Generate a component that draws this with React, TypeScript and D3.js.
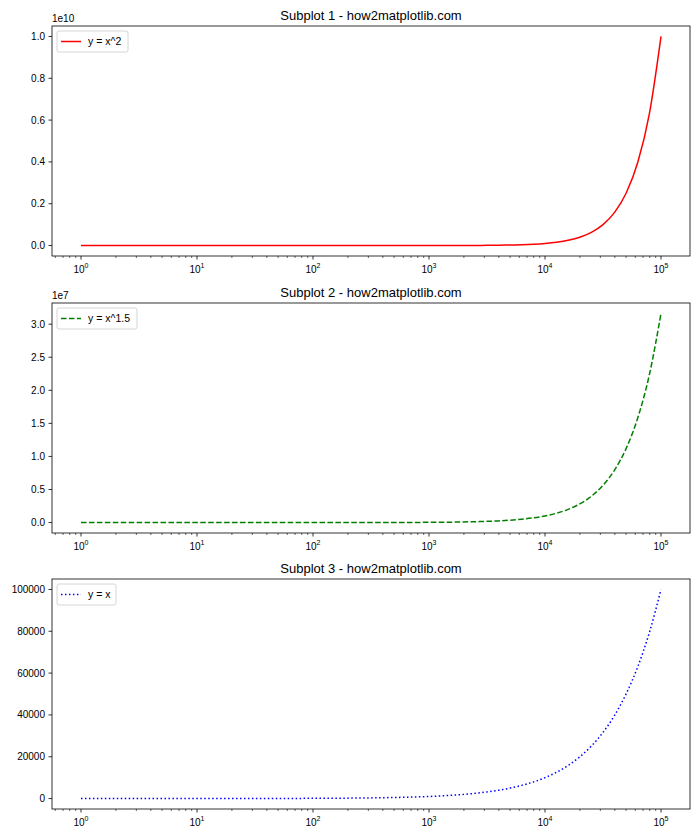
import React from "react";
import * as d3 from "d3";

const xValues = [
  1, 1.259, 1.585, 1.995, 2.512, 3.162, 3.981, 5.012, 6.31, 7.943,
  10, 12.59, 15.85, 19.95, 25.12, 31.62, 39.81, 50.12, 63.1, 79.43,
  100, 125.9, 158.5, 199.5, 251.2, 316.2, 398.1, 501.2, 631, 794.3,
  1000, 1259, 1585, 1995, 2512, 3162, 3981, 5012, 6310, 7943,
  10000, 12589, 15849, 19953, 25119, 31623, 39811, 50119, 63096, 79433, 100000,
];

const ySquare = [
  1, 1.585, 2.512, 3.981, 6.31, 10, 15.85, 25.12, 39.81, 63.1,
  100, 158.5, 251.2, 398.1, 631, 1000, 1585, 2512, 3981, 6310,
  1e4, 15849, 25119, 39811, 63096, 1e5, 1.585e5, 2.512e5, 3.981e5, 6.31e5,
  1e6, 1.585e6, 2.512e6, 3.981e6, 6.31e6, 1e7, 1.585e7, 2.512e7, 3.981e7, 6.31e7,
  1e8, 1.585e8, 2.512e8, 3.981e8, 6.31e8, 1e9, 1.585e9, 2.512e9, 3.981e9, 6.31e9, 1e10,
];

const yPow15 = [
  1, 1.413, 1.995, 2.818, 3.981, 5.623, 7.943, 11.22, 15.85, 22.39,
  31.62, 44.67, 63.1, 89.13, 125.9, 177.8, 251.2, 354.8, 501.2, 707.9,
  1000, 1413, 1995, 2818, 3981, 5623, 7943, 11220, 15849, 22387,
  31623, 44668, 63096, 89125, 125893, 177828, 251189, 354813, 501187, 707946,
  1e6, 1412538, 1995262, 2818383, 3981072, 5623413, 7943282, 11220185, 15848932, 22387211, 31622777,
];

const yLinear = [
  1, 1.259, 1.585, 1.995, 2.512, 3.162, 3.981, 5.012, 6.31, 7.943,
  10, 12.59, 15.85, 19.95, 25.12, 31.62, 39.81, 50.12, 63.1, 79.43,
  100, 125.9, 158.5, 199.5, 251.2, 316.2, 398.1, 501.2, 631, 794.3,
  1000, 1259, 1585, 1995, 2512, 3162, 3981, 5012, 6310, 7943,
  10000, 12589, 15849, 19953, 25119, 31623, 39811, 50119, 63096, 79433, 100000,
];

const titles = [
  "Subplot 1 - how2matplotlib.com",
  "Subplot 2 - how2matplotlib.com",
  "Subplot 3 - how2matplotlib.com",
];
const legendLabels = ["y = x^2", "y = x^1.5", "y = x"];
const seriesValues = [ySquare, yPow15, yLinear];
const yTickValues = [
  [0, 0.2e10, 0.4e10, 0.6e10, 0.8e10, 1e10],
  [0, 0.5e7, 1e7, 1.5e7, 2e7, 2.5e7, 3e7],
  [0, 20000, 40000, 60000, 80000, 100000],
];
const yTickLabels = [
  ["0.0", "0.2", "0.4", "0.6", "0.8", "1.0"],
  ["0.0", "0.5", "1.0", "1.5", "2.0", "2.5", "3.0"],
  ["0", "20000", "40000", "60000", "80000", "100000"],
];
const offsetTexts = ["1e10", "1e7", ""];
const xMajorTicks = [1, 10, 100, 1000, 10000, 100000];
const xTickExponents = ["0", "1", "2", "3", "4", "5"];

const colors = ["#ff0000", "#008000", "#0000ff"];
const dashes = ["none", "5.55,2.4", "1.5,2.475"];

const FONT = "'Liberation Sans', Arial, sans-serif";
const LEFT = 52;
const RIGHT = 690;
const PANEL_TOPS = [26, 303, 579];
const PANEL_H = 230;

function Panel({ idx }: { idx: number }) {
  const top = PANEL_TOPS[idx];
  const bottom = top + PANEL_H;
  const ys = seriesValues[idx];
  const data = xValues.map((x, i) => [x, ys[i]] as [number, number]);

  const lx0 = Math.log10(d3.min(xValues)!);
  const lx1 = Math.log10(d3.max(xValues)!);
  const lpad = (lx1 - lx0) * 0.05;
  const x = d3
    .scaleLog()
    .domain([Math.pow(10, lx0 - lpad), Math.pow(10, lx1 + lpad)])
    .range([LEFT, RIGHT]);

  const [ymin, ymax] = d3.extent(ys) as [number, number];
  const ypad = (ymax - ymin) * 0.05;
  const y = d3
    .scaleLinear()
    .domain([ymin - ypad, ymax + ypad])
    .range([bottom, top]);

  const line = d3
    .line<[number, number]>()
    .x((d) => x(d[0]))
    .y((d) => y(d[1]))
    .curve(d3.curveMonotoneX);

  const [d0, d1] = x.domain();
  const minorTicks = x
    .ticks()
    .filter((t) => t >= d0 && t <= d1)
    .filter((t) => !xMajorTicks.some((m) => Math.abs(m - t) / m < 1e-9));

  const cx = (LEFT + RIGHT) / 2;

  const lgX = LEFT + 5;
  const lgY = top + 5;
  const lgW = idx === 0 ? 71 : idx === 1 ? 80 : 59;
  const lgH = 21;

  return (
    <g>
      <text x={cx} y={top - 6} textAnchor="middle" fontSize={13} fontFamily={FONT} fill="#000">
        {titles[idx]}
      </text>
      {offsetTexts[idx] && (
        <text x={LEFT} y={top - 4} fontSize={10} fontFamily={FONT} fill="#000">
          {offsetTexts[idx]}
        </text>
      )}
      <path
        d={line(data) || ""}
        fill="none"
        stroke={colors[idx]}
        strokeWidth={1.5}
        strokeDasharray={dashes[idx]}
      />
      {yTickValues[idx].map((t, i) => (
        <g key={"y" + i}>
          <line x1={LEFT - 3.5} x2={LEFT} y1={y(t)} y2={y(t)} stroke="#000" strokeWidth={0.8} />
          <text
            x={LEFT - 7}
            y={y(t)}
            dy="0.35em"
            textAnchor="end"
            fontSize={10}
            fontFamily={FONT}
            fill="#000"
          >
            {yTickLabels[idx][i]}
          </text>
        </g>
      ))}
      {xMajorTicks.map((t, i) => (
        <g key={"x" + i}>
          <line x1={x(t)} x2={x(t)} y1={bottom} y2={bottom + 3.5} stroke="#000" strokeWidth={0.8} />
          <text x={x(t)} y={bottom + 17} textAnchor="middle" fontSize={10} fontFamily={FONT} fill="#000">
            10
            <tspan dy={-5} fontSize={7}>
              {xTickExponents[i]}
            </tspan>
          </text>
        </g>
      ))}
      {minorTicks.map((t, i) => (
        <line key={"m" + i} x1={x(t)} x2={x(t)} y1={bottom} y2={bottom + 2} stroke="#000" strokeWidth={0.6} />
      ))}
      <rect x={LEFT} y={top} width={RIGHT - LEFT} height={PANEL_H} fill="none" stroke="#000" strokeWidth={0.8} />
      <rect
        x={lgX}
        y={lgY}
        width={lgW}
        height={lgH}
        rx={2}
        fill="#fff"
        fillOpacity={0.8}
        stroke="#cccccc"
        strokeWidth={0.8}
      />
      <line
        x1={lgX + 4}
        x2={lgX + 24}
        y1={lgY + lgH / 2}
        y2={lgY + lgH / 2}
        stroke={colors[idx]}
        strokeWidth={1.5}
        strokeDasharray={dashes[idx]}
      />
      <text x={lgX + 31} y={lgY + lgH / 2} dy="0.35em" fontSize={10.5} fontFamily={FONT} fill="#000">
        {legendLabels[idx]}
      </text>
    </g>
  );
}

export default function App() {
  return (
    <svg width={700} height={840} style={{ display: "block", position: "absolute", left: 0, top: 0 }}>
      <rect x={0} y={0} width={700} height={840} fill="#fff" />
      {[0, 1, 2].map((i) => (
        <Panel key={i} idx={i} />
      ))}
    </svg>
  );
}
